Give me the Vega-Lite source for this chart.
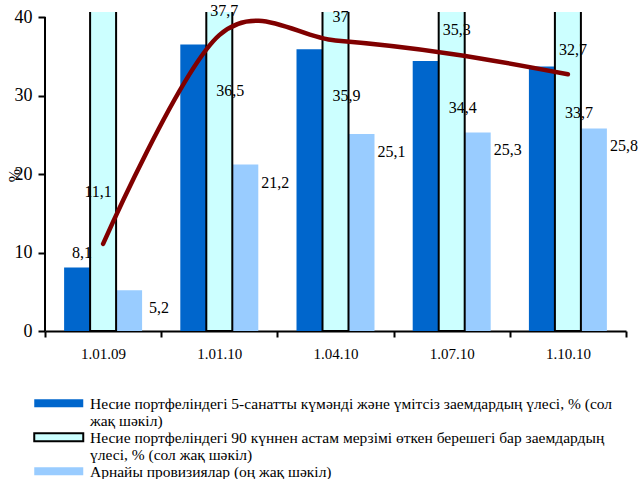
{
  "$schema": "https://vega.github.io/schema/vega-lite/v6.json",
  "width": 581,
  "height": 319,
  "autosize": {"type": "none"},
  "padding": {"left": 45, "top": 12, "right": 12, "bottom": 148},
  "background": "#ffffff",
  "config": {
    "view": {"stroke": null},
    "font": "Liberation Serif",
    "locale": {"number": {"decimal": ",", "thousands": " ", "grouping": [3], "currency": ["", ""]}}
  },
  "data": {
    "values": [
      {"date": "1.01.09", "series": "Несие портфеліндегі 5-санатты күмәнді және үмітсіз заемдардың үлесі, % (сол жақ шәкіл)", "value": 8.1},
      {"date": "1.01.10", "series": "Несие портфеліндегі 5-санатты күмәнді және үмітсіз заемдардың үлесі, % (сол жақ шәкіл)", "value": 36.5},
      {"date": "1.04.10", "series": "Несие портфеліндегі 5-санатты күмәнді және үмітсіз заемдардың үлесі, % (сол жақ шәкіл)", "value": 35.9},
      {"date": "1.07.10", "series": "Несие портфеліндегі 5-санатты күмәнді және үмітсіз заемдардың үлесі, % (сол жақ шәкіл)", "value": 34.4},
      {"date": "1.10.10", "series": "Несие портфеліндегі 5-санатты күмәнді және үмітсіз заемдардың үлесі, % (сол жақ шәкіл)", "value": 33.7},
      {"date": "1.01.09", "series": "Несие портфеліндегі 90 күннен астам мерзімі өткен берешегі бар заемдардың үлесі, % (сол жақ шәкіл)", "value": 11.1},
      {"date": "1.01.10", "series": "Несие портфеліндегі 90 күннен астам мерзімі өткен берешегі бар заемдардың үлесі, % (сол жақ шәкіл)", "value": 37.7},
      {"date": "1.04.10", "series": "Несие портфеліндегі 90 күннен астам мерзімі өткен берешегі бар заемдардың үлесі, % (сол жақ шәкіл)", "value": 37},
      {"date": "1.07.10", "series": "Несие портфеліндегі 90 күннен астам мерзімі өткен берешегі бар заемдардың үлесі, % (сол жақ шәкіл)", "value": 35.3},
      {"date": "1.10.10", "series": "Несие портфеліндегі 90 күннен астам мерзімі өткен берешегі бар заемдардың үлесі, % (сол жақ шәкіл)", "value": 32.7},
      {"date": "1.01.09", "series": "Арнайы провизиялар (оң жақ шәкіл)", "value": 5.2},
      {"date": "1.01.10", "series": "Арнайы провизиялар (оң жақ шәкіл)", "value": 21.2},
      {"date": "1.04.10", "series": "Арнайы провизиялар (оң жақ шәкіл)", "value": 25.1},
      {"date": "1.07.10", "series": "Арнайы провизиялар (оң жақ шәкіл)", "value": 25.3},
      {"date": "1.10.10", "series": "Арнайы провизиялар (оң жақ шәкіл)", "value": 25.8}
    ]
  },
  "encoding": {
    "x": {
      "field": "date",
      "type": "nominal",
      "sort": null,
      "scale": {"paddingInner": 0, "paddingOuter": 0},
      "axis": {
        "title": null,
        "labelAngle": 0,
        "labelFont": "Liberation Serif",
        "labelFontSize": 15,
        "labelColor": "#000000",
        "labelPadding": 9,
        "tickBand": "extent",
        "tickSize": 6,
        "tickWidth": 2,
        "tickColor": "#000000",
        "domainColor": "#000000",
        "domainWidth": 2,
        "grid": false
      }
    },
    "xOffset": {
      "field": "series",
      "type": "nominal",
      "scale": {
        "domain": [
          "Несие портфеліндегі 5-санатты күмәнді және үмітсіз заемдардың үлесі, % (сол жақ шәкіл)",
          "Несие портфеліндегі 90 күннен астам мерзімі өткен берешегі бар заемдардың үлесі, % (сол жақ шәкіл)",
          "Арнайы провизиялар (оң жақ шәкіл)"
        ],
        "paddingInner": 0,
        "paddingOuter": 0.735
      }
    },
    "y": {
      "field": "value",
      "type": "quantitative",
      "scale": {"domain": [0, 40.64], "nice": false},
      "axis": {
        "title": "%",
        "titleFont": "Liberation Serif",
        "titleFontSize": 16,
        "titleFontWeight": "normal",
        "titleColor": "#000000",
        "titleX": -31,
        "titleY": 163,
        "titleAlign": "center",
        "titleBaseline": "middle",
        "values": [0, 10, 20, 30, 40],
        "labelFont": "Liberation Serif",
        "labelFontSize": 18,
        "labelColor": "#000000",
        "labelPadding": 6,
        "tickSize": 7,
        "tickWidth": 2,
        "tickColor": "#000000",
        "domain": false,
        "grid": false
      }
    }
  },
  "layer": [
    {
      "transform": [{"filter": "datum.series != 'Несие портфеліндегі 90 күннен астам мерзімі өткен берешегі бар заемдардың үлесі, % (сол жақ шәкіл)'"}],
      "mark": {"type": "bar"},
      "encoding": {
        "color": {
          "field": "series",
          "type": "nominal",
          "scale": {
            "domain": [
              "Несие портфеліндегі 5-санатты күмәнді және үмітсіз заемдардың үлесі, % (сол жақ шәкіл)",
              "Несие портфеліндегі 90 күннен астам мерзімі өткен берешегі бар заемдардың үлесі, % (сол жақ шәкіл)",
              "Арнайы провизиялар (оң жақ шәкіл)"
            ],
            "range": ["#0066CC", "#CCFFFF", "#99CCFF"]
          },
          "legend": {
            "title": null,
            "orient": "none",
            "legendX": 6,
            "legendY": 383.5,
            "padding": 0,
            "rowPadding": -5,
            "symbolType": "M-6.125,-1H6.125V1H-6.125Z",
            "symbolSize": 64,
            "symbolStrokeWidth": 2,
            "labelFont": "Liberation Serif",
            "labelFontSize": 15.5,
            "labelColor": "#000000",
            "labelLimit": 700,
            "labelOffset": 23.5,
            "labelBaseline": "top",
            "labelExpr": "datum.index == 0 ? ['Несие портфеліндегі 5-санатты күмәнді және үмітсіз заемдардың үлесі, % (сол', 'жақ шәкіл)'] : datum.index == 1 ? ['Несие портфеліндегі 90 күннен астам мерзімі өткен берешегі бар заемдардың', 'үлесі, % (сол жақ шәкіл)'] : datum.label",
            "encode": {
              "symbols": {"update": {"stroke": {"signal": "datum.index == 1 ? '#000000' : 'transparent'"}, "strokeWidth": {"value": 2}, "opacity": {"value": 1}}},
              "labels": {"update": {"dy": {"value": -6.5}, "lineHeight": {"value": 17}}}
            }
          }
        }
      }
    },
    {
      "transform": [{"filter": "datum.series == 'Несие портфеліндегі 90 күннен астам мерзімі өткен берешегі бар заемдардың үлесі, % (сол жақ шәкіл)'"}],
      "mark": {"type": "bar", "stroke": "#000000", "strokeWidth": 2, "clip": true},
      "encoding": {
        "y": {"datum": 42},
        "y2": {"datum": 0},
        "color": {"field": "series", "type": "nominal"}
      }
    },
    {
      "transform": [{"filter": "datum.date == '1.01.09' && datum.series == 'Арнайы провизиялар (оң жақ шәкіл)'"}],
      "mark": {"type": "rule", "color": "#000000", "strokeWidth": 2},
      "encoding": {
        "x": {"field": "date", "type": "nominal", "bandPosition": 0},
        "xOffset": null,
        "y": {"datum": 0},
        "y2": {"datum": 40}
      }
    },
    {
      "transform": [{"filter": "datum.series == 'Несие портфеліндегі 90 күннен астам мерзімі өткен берешегі бар заемдардың үлесі, % (сол жақ шәкіл)'"}],
      "mark": {"type": "line", "color": "#800000", "strokeWidth": 4.5, "interpolate": "cardinal", "tension": 0, "strokeCap": "round"},
      "encoding": {"xOffset": null}
    },
    {
      "transform": [{"filter": "datum.series == 'Несие портфеліндегі 5-санатты күмәнді және үмітсіз заемдардың үлесі, % (сол жақ шәкіл)' && datum.date == '1.01.09'"}],
      "mark": {"type": "text", "font": "Liberation Serif", "fontSize": 16, "color": "#000000", "dx": 5, "dy": -14},
      "encoding": {"text": {"field": "value", "type": "quantitative", "format": ".1~f"}}
    },
    {
      "transform": [{"filter": "datum.series == 'Несие портфеліндегі 5-санатты күмәнді және үмітсіз заемдардың үлесі, % (сол жақ шәкіл)' && datum.date != '1.01.09'"}],
      "mark": {"type": "text", "font": "Liberation Serif", "fontSize": 16, "color": "#000000", "dx": 37, "dy": 47},
      "encoding": {"text": {"field": "value", "type": "quantitative", "format": ".1~f"}}
    },
    {
      "transform": [{"filter": "datum.series == 'Несие портфеліндегі 90 күннен астам мерзімі өткен берешегі бар заемдардың үлесі, % (сол жақ шәкіл)' && datum.date == '1.01.09'"}],
      "mark": {"type": "text", "font": "Liberation Serif", "fontSize": 16, "color": "#000000", "dx": -5, "dy": -52},
      "encoding": {"text": {"field": "value", "type": "quantitative", "format": ".1~f"}}
    },
    {
      "transform": [{"filter": "datum.series == 'Несие портфеліндегі 90 күннен астам мерзімі өткен берешегі бар заемдардың үлесі, % (сол жақ шәкіл)' && datum.date != '1.01.09'"}],
      "mark": {"type": "text", "font": "Liberation Serif", "fontSize": 16, "color": "#000000", "dx": 5, "dy": -24},
      "encoding": {"text": {"field": "value", "type": "quantitative", "format": ".1~f"}}
    },
    {
      "transform": [{"filter": "datum.series == 'Арнайы провизиялар (оң жақ шәкіл)'"}],
      "mark": {"type": "text", "font": "Liberation Serif", "fontSize": 16, "color": "#000000", "dx": 30, "dy": 18},
      "encoding": {"text": {"field": "value", "type": "quantitative", "format": ".1~f"}}
    }
  ]
}
